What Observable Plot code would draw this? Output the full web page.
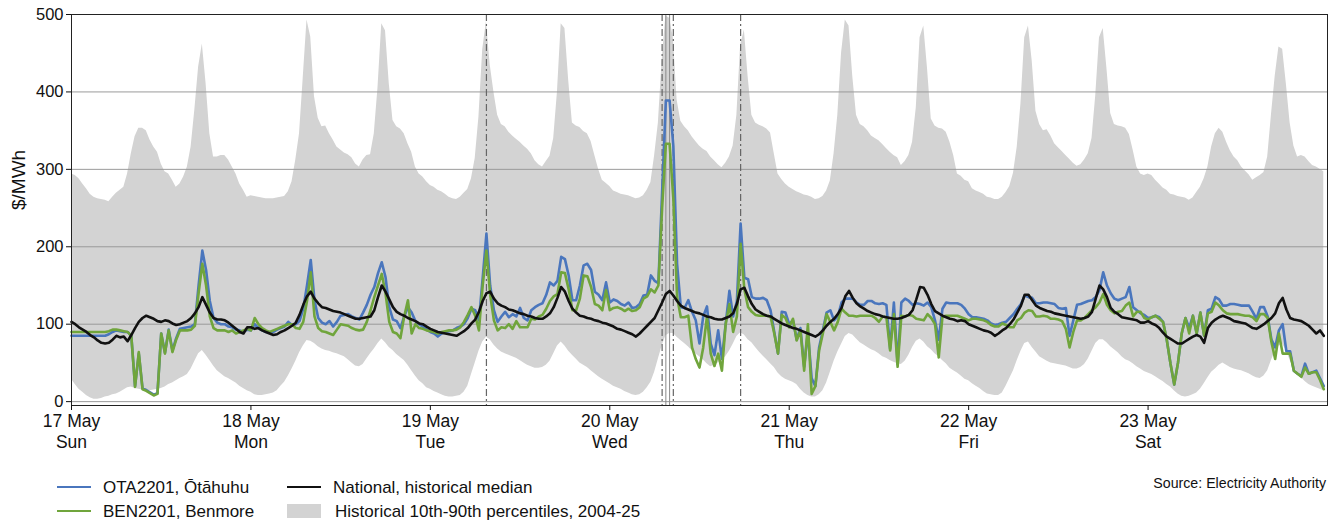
<!DOCTYPE html>
<html>
<head>
<meta charset="utf-8">
<script src="https://cdn.jsdelivr.net/npm/d3@7"></script>
<script src="https://cdn.jsdelivr.net/npm/@observablehq/plot@0.6"></script>
<style>
  html, body { margin: 0; padding: 0; background: #fff; }
  body { font-family: "Liberation Sans", Arial, Helvetica, sans-serif; color: #111; }
  #wrap { position: relative; width: 1339px; height: 523px; }
  #chart { position: absolute; left: 0; top: 0; }
  .legend { position: absolute; font-size: 17px; line-height: 1; }
  .item { position: absolute; white-space: nowrap; display: flex; align-items: center; }
  .swatch-line { display: inline-block; width: 34px; height: 0; border-top: 2.5px solid; margin-right: 12px; }
  .swatch-box { display: inline-block; width: 34px; height: 14px; background: #d3d3d3; margin-right: 14px; }
  #source { position: absolute; right: 13px; top: 475px; font-size: 14.2px; }
</style>
</head>
<body>
<div id="wrap">
  <div id="chart"></div>
  <div class="legend" id="legend"></div>
  <div id="source">Source: Electricity Authority</div>
</div>
<script>
// Half-hourly wholesale prices, 17–23 May ($/MWh), one row of 48 trading periods per day.

// Historical 90th percentile (top of the band)
const p90 = [
  294,292,288,281,275,268,264,262,261,260,258,264,269,273,277,294,320,342,353,353,350,338,329,322,307,297,294,286,277,281,290,303,329,377,432,462,411,346,316,316,318,318,312,303,294,281,273,264,
  266,265,264,263,262,262,262,263,264,265,271,284,312,346,419,493,471,394,366,355,356,346,338,329,325,321,319,315,307,303,312,318,319,346,406,488,479,411,363,355,352,346,333,322,303,294,290,284,
  279,277,273,271,268,264,262,261,264,269,274,288,314,368,454,491,435,400,370,358,355,348,343,339,335,330,326,320,311,306,303,310,317,340,400,488,482,415,360,356,354,349,346,336,318,300,286,282,
  278,272,270,268,267,266,264,262,263,266,273,283,318,360,440,498,495,470,390,362,355,350,342,336,330,326,323,316,311,306,302,308,316,330,370,460,480,420,370,360,357,355,352,347,320,294,287,281,
  277,274,271,269,267,266,264,261,262,265,272,285,320,370,450,493,485,420,370,358,355,350,343,340,337,332,327,322,318,315,305,310,318,335,380,470,485,430,365,356,353,352,348,335,318,294,291,286,
  284,275,272,270,268,264,263,261,261,264,270,278,295,329,385,470,485,440,375,358,350,351,343,333,328,323,318,313,308,304,306,312,320,340,395,470,482,430,372,358,356,355,353,345,325,303,294,292,
  294,292,286,281,276,273,268,267,265,264,263,260,263,270,277,288,303,329,346,353,348,335,324,316,311,303,298,293,286,289,292,296,316,370,420,458,455,410,360,330,316,318,316,310,305,303,300,297
];

// Historical 10th percentile (bottom of the band)
const p10 = [
  29,22,16,12,8,5,3,3,4,6,7,9,10,12,15,18,19,17,16,15,14,14,15,16,17,19,22,24,27,30,32,35,42,52,62,66,60,53,46,40,36,32,30,27,24,20,17,14,
  12,9,8,8,9,10,11,14,20,25,33,42,52,63,72,79,78,75,71,68,66,65,63,62,60,58,54,50,46,45,48,55,62,68,75,81,76,70,66,61,57,53,47,40,33,27,23,18,
  16,13,11,9,7,6,6,7,8,12,20,35,50,65,77,83,80,73,68,64,62,60,58,56,53,50,47,45,43,43,44,47,52,62,72,77,72,65,60,55,50,47,44,40,36,32,29,26,
  23,20,18,16,13,11,9,8,9,12,18,25,38,55,72,85,88,88,83,79,75,71,66,62,58,54,49,45,47,50,54,58,65,74,84,89,86,80,76,70,64,59,54,49,44,37,32,29,
  27,25,22,16,11,8,6,6,9,14,24,38,52,64,74,84,88,86,81,76,73,70,67,65,62,58,56,53,51,49,48,52,60,70,78,81,77,71,67,62,58,53,49,43,40,37,33,29,
  27,23,20,17,13,10,9,8,8,11,20,30,40,53,65,75,77,70,64,58,55,52,50,49,48,47,46,44,42,42,44,48,55,65,75,80,80,76,71,67,63,58,54,52,49,45,42,39,
  37,35,32,29,26,22,19,14,10,7,6,7,9,11,16,23,31,38,42,47,50,47,44,42,41,40,38,36,33,31,30,33,40,53,65,72,74,66,53,44,37,31,26,22,20,18,16,14
];

// National historical median
const median = [
  103,100,96,93,90,86,83,79,76,75,76,80,85,83,84,78,86,95,103,108,111,109,107,104,103,105,104,101,99,100,102,104,108,114,122,135,125,115,108,106,106,105,102,98,94,90,88,96,
  96,94,95,92,90,88,86,87,90,92,95,98,102,112,125,136,142,133,127,122,121,119,117,116,115,113,111,109,107,107,108,109,110,118,135,150,142,132,122,116,113,111,108,106,104,101,100,97,
  94,92,90,89,88,87,86,85,88,91,95,101,106,116,130,140,142,133,127,124,122,119,118,116,114,113,111,110,108,107,107,110,114,122,134,148,142,130,120,115,111,110,108,107,105,104,102,101,
  99,97,94,93,91,89,87,84,88,93,98,103,108,118,128,139,143,137,130,124,121,119,117,115,114,112,110,109,107,106,106,108,110,114,126,145,147,136,126,119,116,113,111,110,107,104,101,99,
  97,95,94,92,90,88,86,84,87,92,98,103,107,113,121,136,143,134,127,123,120,117,115,113,112,110,109,108,107,107,108,110,112,118,132,148,147,138,126,117,114,111,109,107,106,104,105,104,
  100,98,96,94,92,91,89,85,88,92,95,100,106,115,124,138,138,131,124,121,119,117,116,114,113,112,111,110,109,108,107,108,110,116,133,150,145,135,121,116,113,109,108,107,106,105,102,102,
  104,101,99,95,89,84,81,78,75,75,78,81,84,86,84,76,95,102,106,109,111,109,107,104,103,102,101,98,95,94,97,100,104,108,114,127,134,119,108,106,105,104,101,98,93,88,92,85
];

// OTA2201, Ōtāhuhu
const ota = [
  85,85,85,85,85,85,85,85,85,85,87,90,92,91,90,90,85,20,62,17,15,12,9,11,88,63,93,66,82,94,95,96,97,100,150,195,170,130,108,102,100,100,97,96,93,92,90,93,
  92,100,95,92,90,89,90,93,95,97,103,99,100,104,120,150,183,131,108,102,100,104,97,103,111,112,113,110,108,106,115,125,138,148,166,180,161,122,106,104,95,110,122,115,104,100,97,93,
  90,88,84,88,90,91,92,95,97,100,108,120,118,105,160,217,150,118,103,110,116,109,113,110,121,108,105,118,122,125,127,138,154,150,156,187,184,163,131,131,150,176,178,170,142,138,131,154,
  128,132,130,126,124,128,121,122,126,137,138,163,156,153,270,389,389,330,178,122,121,131,116,105,75,110,123,75,60,92,55,100,143,110,130,230,160,158,135,133,133,134,131,118,90,62,116,115,
  100,105,80,95,45,90,30,20,70,92,115,118,105,110,128,133,133,133,128,125,125,130,130,127,126,127,125,68,128,48,128,133,130,125,127,126,124,128,122,105,80,120,128,127,127,127,125,120,
  113,109,109,108,107,105,101,99,100,102,103,108,113,120,126,137,135,134,127,127,128,128,127,126,121,120,121,85,105,125,126,128,130,131,135,144,167,150,140,133,131,133,135,148,122,118,114,112,
  108,109,111,109,103,80,49,22,50,88,108,95,111,88,115,85,118,120,135,132,124,124,126,126,125,124,124,124,116,107,122,122,110,80,70,92,100,65,65,40,36,33,49,36,38,40,30,20
];

// BEN2201, Benmore
const ben = [
  90,90,90,90,90,90,90,90,90,90,91,93,93,92,91,90,85,19,64,16,14,11,8,10,88,62,92,64,80,92,92,92,93,98,140,178,150,110,95,92,92,92,90,92,88,90,92,94,
  92,108,100,95,92,90,92,94,96,98,100,100,95,94,103,130,167,110,95,91,90,88,86,93,100,99,98,95,93,92,93,103,118,135,150,165,140,103,90,88,82,110,131,88,100,95,94,92,
  91,90,88,90,91,92,92,93,96,103,112,122,111,92,150,195,138,105,92,96,95,100,94,104,96,96,96,107,106,110,112,120,130,136,139,167,166,145,118,118,133,163,162,148,126,124,118,144,
  118,121,122,120,117,120,117,118,122,133,136,145,141,150,250,333,333,262,135,109,109,111,70,55,44,70,110,62,46,62,40,100,126,90,110,204,145,122,116,112,111,111,111,110,88,62,112,108,
  96,107,79,92,40,100,10,20,66,88,113,103,92,103,120,115,111,111,110,111,111,111,111,108,103,110,109,66,113,45,111,110,112,111,107,106,105,113,108,100,57,110,111,111,111,111,109,107,
  105,107,107,106,105,103,99,97,97,101,99,96,96,105,108,115,118,117,110,110,111,110,107,107,106,104,94,70,90,105,105,108,113,118,122,128,139,125,118,114,116,117,124,128,110,116,116,108,
  106,109,111,107,103,80,49,22,50,88,108,88,111,88,115,85,114,116,128,124,118,114,113,113,113,112,111,111,109,104,113,113,108,77,55,88,62,62,62,40,36,32,44,36,38,38,28,16
];

// Axis labels
const dayLabels = ["17 May", "18 May", "19 May", "20 May", "21 May", "22 May", "23 May"];
const weekdays = ["Sun", "Mon", "Tue", "Wed", "Thu", "Fri", "Sat"];
const yTicks = [0, 100, 200, 300, 400, 500];

// Trading periods flagged with vertical markers (times kept as UTC-labelled local clock times)
const dashedMarkers = ["2026-05-19T07:30Z", "2026-05-20T07:00Z", "2026-05-20T08:30Z", "2026-05-20T17:30Z"];
const solidMarkers = ["2026-05-20T07:30Z", "2026-05-20T08:00Z"];

const start = Date.UTC(2026, 4, 17);
const halfHour = 30 * 60 * 1000;
const rows = p90.map((hi, i) => ({
  t: new Date(start + i * halfHour),
  hi, lo: p10[i], med: median[i], ota: ota[i], ben: ben[i]
}));
const dayTicks = dayLabels.map((_, d) => new Date(start + d * 48 * halfHour));

const BLUE = "#4a76bd";
const GREEN = "#70a53c";
const FONT = "'Liberation Sans', Arial, Helvetica, sans-serif";

const chart = Plot.plot({
  width: 1339,
  height: 465,
  marginTop: 14,
  marginBottom: 60,
  marginLeft: 71,
  marginRight: 12,
  style: { fontFamily: FONT, fontSize: "16px", color: "#111", background: "#fff" },
  x: { type: "utc", domain: [new Date(start), new Date(start + 7 * 48 * halfHour)] },
  y: { domain: [-5, 500] },
  marks: [
    Plot.areaY(rows, { x: "t", y1: "lo", y2: "hi", fill: "#d3d3d3", curve: "linear" }),
    Plot.gridY(yTicks, { stroke: "#9a9a9a", strokeOpacity: 1, strokeWidth: 1 }),
    Plot.ruleX(solidMarkers.map(s => new Date(s)), { stroke: "#8a8a8a", strokeWidth: 1 }),
    Plot.ruleX(dashedMarkers.map(s => new Date(s)), { stroke: "#666", strokeWidth: 1.2, strokeDasharray: "7,3,2,3" }),
    Plot.lineY(rows, { x: "t", y: "ota", stroke: BLUE, strokeWidth: 2.6, strokeLinejoin: "round" }),
    Plot.lineY(rows, { x: "t", y: "ben", stroke: GREEN, strokeWidth: 2.6, strokeLinejoin: "round" }),
    Plot.lineY(rows, { x: "t", y: "med", stroke: "#111", strokeWidth: 2.6, strokeLinejoin: "round" }),
    Plot.frame({ stroke: "#222", strokeWidth: 1 }),
    Plot.axisY({ ticks: yTicks, tickSize: 5, tickPadding: 3, fontSize: 16.5, label: null }),
    Plot.text(["$/MWh"], { frameAnchor: "left", dx: -53, rotate: -90, fontSize: 19, fill: "#111" }),
    Plot.axisX({
      ticks: dayTicks, tickSize: 5, tickPadding: 2, fontSize: 17.5, lineHeight: 1.2,
      tickFormat: (d) => {
        const k = Math.round((d - start) / (48 * halfHour));
        return dayLabels[k] + "\n" + weekdays[k];
      },
      label: null
    })
  ]
});
document.getElementById("chart").appendChild(chart);

// Legend below the plot
const legendItems = [
  { label: "OTA2201, Ōtāhuhu", kind: "line", color: BLUE, x: 57, y: 477 },
  { label: "BEN2201, Benmore", kind: "line", color: GREEN, x: 57, y: 501 },
  { label: "National, historical median", kind: "line", color: "#111", x: 287, y: 477 },
  { label: "Historical 10th-90th percentiles, 2004-25", kind: "box", color: "#d3d3d3", x: 287, y: 501 }
];
const legend = document.getElementById("legend");
for (const it of legendItems) {
  const el = document.createElement("div");
  el.className = "item";
  el.style.left = it.x + "px";
  el.style.top = it.y + "px";
  el.style.height = "20px";
  const sw = document.createElement("span");
  if (it.kind === "line") { sw.className = "swatch-line"; sw.style.borderTopColor = it.color; }
  else { sw.className = "swatch-box"; sw.style.background = it.color; }
  el.appendChild(sw);
  const tx = document.createElement("span");
  tx.textContent = it.label;
  el.appendChild(tx);
  legend.appendChild(el);
}
</script>
</body>
</html>
